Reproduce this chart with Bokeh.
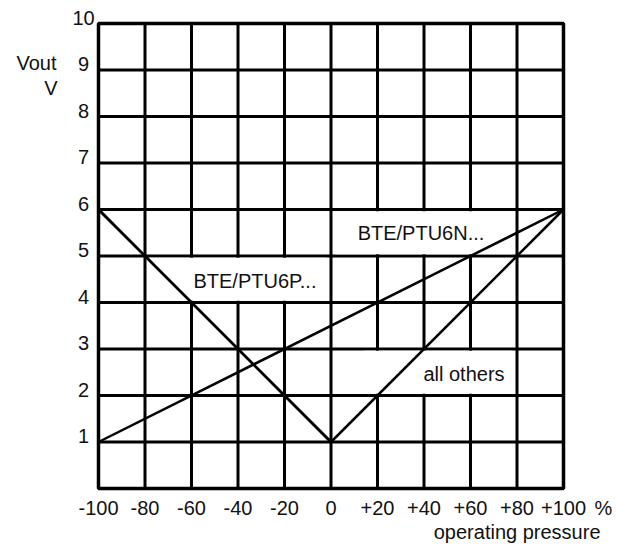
from bokeh.plotting import figure
from bokeh.models import Range1d
from bokeh.core.properties import value
from bokeh.embed import file_html
from bokeh.resources import INLINE

FONT = "Liberation Sans"
FS = "20px"
INK = "#111111"

# ---- data ----
pressure_ticks = [-100, -80, -60, -40, -20, 0, 20, 40, 60, 80, 100]
pressure_tick_labels = ["-100", "-80", "-60", "-40", "-20", "0", "+20", "+40", "+60", "+80", "+100"]
vout_ticks = [0, 1, 2, 3, 4, 5, 6, 7, 8, 9, 10]
vout_tick_labels = ["", "1", "2", "3", "4", "5", "6", "7", "8", "9", "10"]

others_p = [-100, 0, 100]
others_v = [6, 1, 6]
ptu6p_p = [-100, 0]
ptu6p_v = [6, 1]
ptu6n_p = [-100, 100]
ptu6n_v = [1, 6]

series_names = ["BTE/PTU6N...", "BTE/PTU6P...", "all others"]
name_x = [38.7, -32.7, 57.2]
name_y = [5.33, 4.30, 2.28]
box_left = [2, -78, 14]
box_right = [78, -2, 78]
box_bottom = [5.04, 4.04, 2.04]
box_top = [5.96, 4.96, 2.96]

# ---- layout: whole canvas is the frame; chart box at px 98..563 x 23..488 ----
W, H = 624, 544
X0, X1, Y0, Y1 = 98, 563, 23, 488
xs = 200 / (X1 - X0)      # data units per pixel (x)
ys = 10 / (Y1 - Y0)       # data units per pixel (y)
xmin, xmax = -100 - X0 * xs, 100 + (W - X1) * xs
ymin, ymax = -(H - Y1) * ys, 10 + Y0 * ys
LIFT = 8 * ys             # text placement correction (pixels -> data)

p = figure(width=W, height=H, min_border=0,
           x_range=Range1d(xmin, xmax), y_range=Range1d(ymin, ymax),
           x_axis_location=None, y_axis_location=None,
           output_backend="svg", toolbar_location=None)
p.grid.visible = False
p.outline_line_color = None
p.background_fill_color = "white"
p.border_fill_color = "white"

xlo, xhi = pressure_ticks[0], pressure_ticks[-1]
ylo, yhi = vout_ticks[0], vout_ticks[-1]

# grid
inner_x = pressure_ticks[1:-1]
inner_y = vout_ticks[1:-1]
p.segment(x0=inner_x, y0=[ylo] * len(inner_x), x1=inner_x, y1=[yhi] * len(inner_x),
          line_color="black", line_width=3)
p.segment(x0=[xlo] * len(inner_y), y0=inner_y, x1=[xhi] * len(inner_y), y1=inner_y,
          line_color="black", line_width=3)

# white label boxes
p.quad(left=box_left, right=box_right, bottom=box_bottom, top=box_top,
       fill_color="white", line_color=None)

# border
p.quad(left=[xlo], right=[xhi], bottom=[ylo], top=[yhi],
       fill_color=None, line_color="black", line_width=3.5)

# curves
p.line(others_p, others_v, line_color="black", line_width=2.5)
p.line(ptu6p_p, ptu6p_v, line_color="black", line_width=2.5)
p.line(ptu6n_p, ptu6n_v, line_color="black", line_width=2.5)

p.text(x=name_x, y=[v + LIFT for v in name_y], text=series_names, text_align="center",
       text_baseline="alphabetic", text_font=value(FONT),
       text_font_size=FS, text_color=INK)

# x tick labels
p.text(x=pressure_ticks, y=[ylo - 27 * ys + LIFT] * len(pressure_ticks),
       text=pressure_tick_labels, text_align="center", text_baseline="alphabetic",
       text_font=value(FONT), text_font_size=FS, text_color=INK)
# y tick labels
p.text(x=[xlo - 15 * xs] * len(vout_ticks), y=[t - 2 * ys + LIFT for t in vout_ticks],
       text=vout_tick_labels, text_align="center", text_baseline="alphabetic",
       text_font=value(FONT), text_font_size=FS, text_color=INK)

# unit and axis titles
p.text(x=[xhi + 40 * xs], y=[ylo - 27 * ys + LIFT], text=["%"], text_align="center",
       text_baseline="alphabetic", text_font=value(FONT), text_font_size=FS, text_color=INK)
p.text(x=[xhi + 37 * xs], y=[ylo - 51 * ys + LIFT], text=["operating pressure"], text_align="right",
       text_baseline="alphabetic", text_font=value(FONT), text_font_size=FS, text_color=INK)
p.text(x=[xlo - 42 * xs, xlo - 41 * xs], y=[yhi - 47 * ys + LIFT, yhi - 72 * ys + LIFT],
       text=["Vout", "V"], text_align="right", text_baseline="alphabetic",
       text_font=value(FONT), text_font_size=FS, text_color=INK)

open("out.html", "w").write(file_html(p, INLINE))
